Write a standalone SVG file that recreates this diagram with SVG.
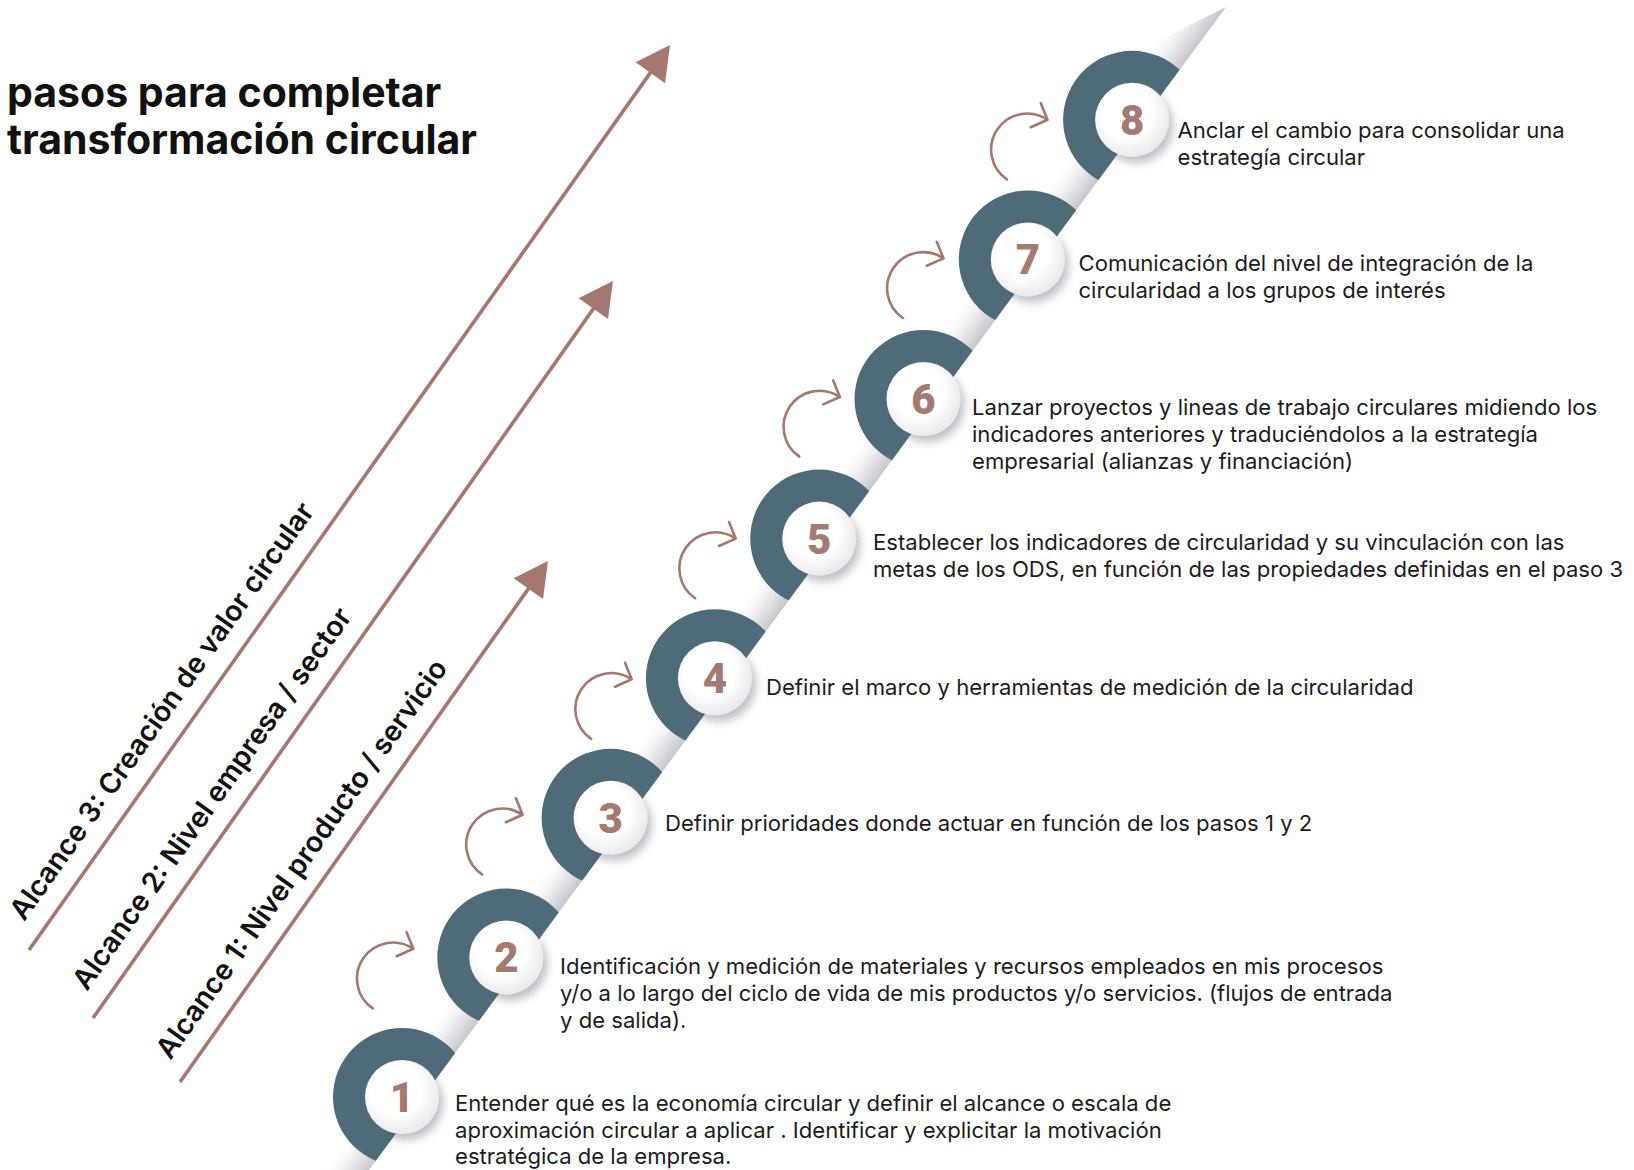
<svg xmlns="http://www.w3.org/2000/svg" xmlns:xlink="http://www.w3.org/1999/xlink" width="1634" height="1170" viewBox="0 0 1634 1170">
<style>
.title{font-family:Inter,"Liberation Sans",sans-serif;font-weight:700;font-size:41px;fill:#111}
.desc{font-family:Inter,"Liberation Sans",sans-serif;font-size:22.1px;fill:#1c1c1c}
.num{font-family:Roboto,"Liberation Sans",sans-serif;font-weight:900;font-size:42px;fill:#a57a72;text-anchor:middle}
.scope{font-family:Inter,"Liberation Sans",sans-serif;font-weight:600;font-size:28.3px;fill:#111}
.curl{fill:none;stroke:#a6776f;stroke-width:2.6;stroke-linecap:round;stroke-linejoin:round}
.scopeline{fill:none;stroke:#a6776f;stroke-width:3.6}
.ring{fill:url(#ringGrad)}
.disc{fill:url(#discGrad);filter:url(#shadow)}
</style>
<defs>
<linearGradient id="bandGrad" gradientUnits="userSpaceOnUse" x1="336.8" y1="1146.3" x2="369" y2="1170">
<stop offset="0" stop-color="#ffffff" stop-opacity="0"/>
<stop offset="0.5" stop-color="#efeef1"/>
<stop offset="1" stop-color="#c8c7cd"/>
</linearGradient>
<linearGradient id="ringGrad" gradientUnits="userSpaceOnUse" x1="339" y1="1148" x2="369" y2="1170">
<stop offset="0" stop-color="#4f6b79"/>
<stop offset="1" stop-color="#3c5360"/>
</linearGradient>
<radialGradient id="discGrad" cx="0.42" cy="0.4" r="0.62">
<stop offset="0.55" stop-color="#ffffff"/>
<stop offset="1" stop-color="#e9e8ec"/>
</radialGradient>
<filter id="shadow" x="-40%" y="-40%" width="190%" height="190%">
<feDropShadow dx="4" dy="6" stdDeviation="4.5" flood-color="#5f5c6e" flood-opacity="0.4"/>
</filter>
<clipPath id="cut" clipPathUnits="userSpaceOnUse">
<polygon points="369,1170 1231,0 0,0 0,1170"/>
</clipPath>
<path id="ringShape" d="M-69 0a69 69 0 1 0 138 0a69 69 0 1 0 -138 0ZM-36 0a36 36 0 1 0 72 0a36 36 0 1 0 -72 0Z" fill-rule="evenodd"/>
<path id="curlShape" d="M-19.6 30.2A36 36 0 1 1 21 -29.4M14.3 -46L21 -29.4L4.3 -22"/>
<marker id="head" markerUnits="userSpaceOnUse" markerWidth="40" markerHeight="40" viewBox="0 -20 36 40" refX="2" refY="0" orient="auto">
<path d="M0 -18L34 0L0 18Z" fill="#a6776f"/>
</marker>
</defs>

<rect width="1634" height="1170" fill="#ffffff"/>

<g id="title">
<text class="title" x="7" y="107">pasos para completar</text>
<text class="title" x="7" y="154">transformación circular</text>
</g>

<g id="band">
<polygon points="369,1170 1226,7 1160,40 319.4,1170" fill="url(#bandGrad)"/>
</g>

<g id="scopes">
<g id="scope3">
<path class="scopeline" d="M29 950L651.5 71.1" marker-end="url(#head)"/>
<text class="scope" transform="translate(29,950) rotate(-54.7) translate(20,-20)">Alcance 3: Creación de valor circular</text>
</g>
<g id="scope2">
<path class="scopeline" d="M93 1018L594.5 307.1" marker-end="url(#head)"/>
<text class="scope" transform="translate(93,1018) rotate(-54.7) translate(18,-20)">Alcance 2: Nivel empresa / sector</text>
</g>
<g id="scope1">
<path class="scopeline" d="M180 1082L529.5 587.1" marker-end="url(#head)"/>
<text class="scope" transform="translate(180,1082) rotate(-54.7) translate(12,-20)">Alcance 1: Nivel producto / servicio</text>
</g>
</g>

<g id="connectors">
<use href="#curlShape" class="curl" transform="translate(392.3,978.2)"/>
<use href="#curlShape" class="curl" transform="translate(501.6,844.2)"/>
<use href="#curlShape" class="curl" transform="translate(610.7,708.7)"/>
<use href="#curlShape" class="curl" transform="translate(714.7,568)"/>
<use href="#curlShape" class="curl" transform="translate(818.9,426.4)"/>
<use href="#curlShape" class="curl" transform="translate(922.5,287.8)"/>
<use href="#curlShape" class="curl" transform="translate(1026.5,149.2)"/>
</g>

<g id="step1">
<g clip-path="url(#cut)"><use href="#ringShape" class="ring" x="402" y="1097"/></g>
<circle class="disc" cx="402" cy="1097" r="37"/>
<text class="num" x="402" y="1112">1</text>
<text class="desc" x="455" y="1111">Entender qué es la economía circular y definir el alcance o escala de</text>
<text class="desc" x="455" y="1138">aproximación circular a aplicar . Identificar y explicitar la motivación</text>
<text class="desc" x="455" y="1164">estratégica de la empresa.</text>
</g>

<g id="step2">
<g clip-path="url(#cut)"><use href="#ringShape" class="ring" x="506.3" y="957.4"/></g>
<circle class="disc" cx="506.3" cy="957.4" r="37"/>
<text class="num" x="506.3" y="972.4">2</text>
<text class="desc" x="560" y="974">Identificación y medición de materiales y recursos empleados en mis procesos</text>
<text class="desc" x="560" y="1001">y/o a lo largo del ciclo de vida de mis productos y/o servicios. (flujos de entrada</text>
<text class="desc" x="560" y="1028">y de salida).</text>
</g>

<g id="step3">
<g clip-path="url(#cut)"><use href="#ringShape" class="ring" x="610.6" y="817.8"/></g>
<circle class="disc" cx="610.6" cy="817.8" r="37"/>
<text class="num" x="610.6" y="832.8">3</text>
<text class="desc" x="665" y="831">Definir prioridades donde actuar en función de los pasos 1 y 2</text>
</g>

<g id="step4">
<g clip-path="url(#cut)"><use href="#ringShape" class="ring" x="714.9" y="678.2"/></g>
<circle class="disc" cx="714.9" cy="678.2" r="37"/>
<text class="num" x="714.9" y="693.2">4</text>
<text class="desc" x="766" y="695">Definir el marco y herramientas de medición de la circularidad</text>
</g>

<g id="step5">
<g clip-path="url(#cut)"><use href="#ringShape" class="ring" x="819.2" y="538.6"/></g>
<circle class="disc" cx="819.2" cy="538.6" r="37"/>
<text class="num" x="819.2" y="553.6">5</text>
<text class="desc" x="873" y="550">Establecer los indicadores de circularidad y su vinculación con las</text>
<text class="desc" x="873" y="577">metas de los ODS, en función de las propiedades definidas en el paso 3</text>
</g>

<g id="step6">
<g clip-path="url(#cut)"><use href="#ringShape" class="ring" x="923.5" y="399"/></g>
<circle class="disc" cx="923.5" cy="399" r="37"/>
<text class="num" x="923.5" y="414">6</text>
<text class="desc" x="972" y="415">Lanzar proyectos y lineas de trabajo circulares midiendo los</text>
<text class="desc" x="972" y="442">indicadores anteriores y traduciéndolos a la estrategía</text>
<text class="desc" x="972" y="469">empresarial (alianzas y financiación)</text>
</g>

<g id="step7">
<g clip-path="url(#cut)"><use href="#ringShape" class="ring" x="1027.8" y="259.4"/></g>
<circle class="disc" cx="1027.8" cy="259.4" r="37"/>
<text class="num" x="1027.8" y="274.4">7</text>
<text class="desc" x="1078.5" y="271">Comunicación del nivel de integración de la</text>
<text class="desc" x="1078.5" y="298">circularidad a los grupos de interés</text>
</g>

<g id="step8">
<g clip-path="url(#cut)"><use href="#ringShape" class="ring" x="1132.1" y="119.8"/></g>
<circle class="disc" cx="1132.1" cy="119.8" r="37"/>
<text class="num" x="1132.1" y="134.8">8</text>
<text class="desc" x="1177.5" y="138">Anclar el cambio para consolidar una</text>
<text class="desc" x="1177.5" y="164.5">estrategía circular</text>
</g>
</svg>
